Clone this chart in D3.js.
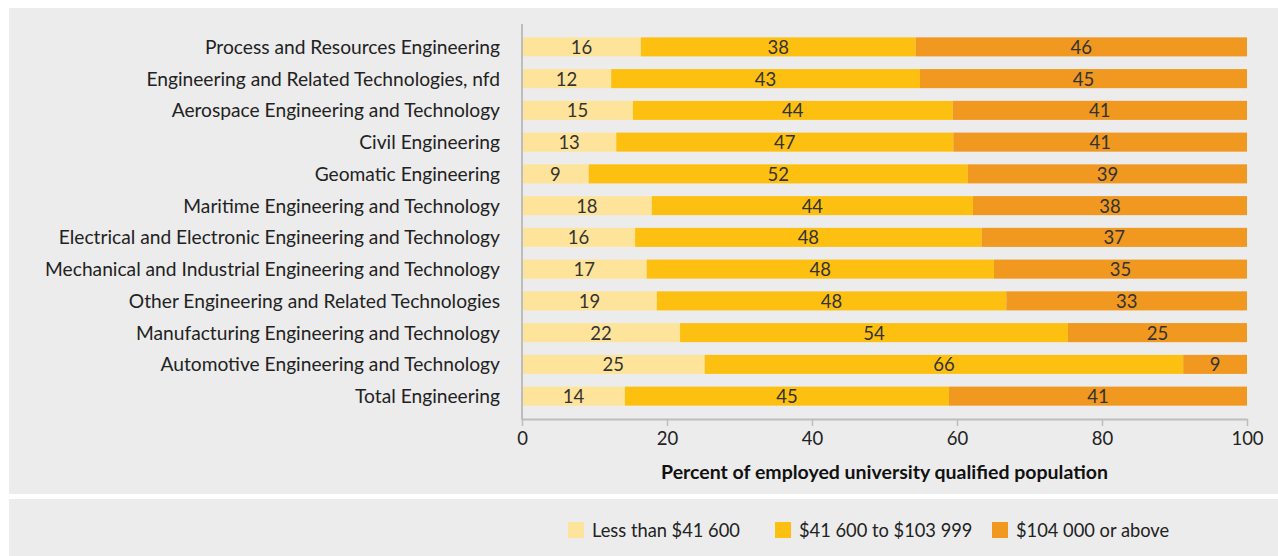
<!DOCTYPE html>
<html>
<head>
<meta charset="utf-8">
<script src="https://cdn.jsdelivr.net/npm/d3@7"></script>
<style>
  body { margin: 0; background: #fff; }
  svg { display: block; font-family: Lato, "Open Sans", sans-serif; }
</style>
</head>
<body>
<svg id="chart"></svg>
<script>
// Chart data
const categories = [
  "Process and Resources Engineering",
  "Engineering and Related Technologies, nfd",
  "Aerospace Engineering and Technology",
  "Civil Engineering",
  "Geomatic Engineering",
  "Maritime Engineering and Technology",
  "Electrical and Electronic Engineering and Technology",
  "Mechanical and Industrial Engineering and Technology",
  "Other Engineering and Related Technologies",
  "Manufacturing Engineering and Technology",
  "Automotive Engineering and Technology",
  "Total Engineering"
];
const lowValues = [16.4, 12.3, 15.3, 13.0, 9.2, 17.9, 15.6, 17.2, 18.6, 21.8, 25.2, 14.2];
const midValues = [37.9, 42.6, 44.1, 46.5, 52.3, 44.3, 47.8, 47.9, 48.2, 53.5, 66.0, 44.7];
const highValues = [45.7, 45.1, 40.6, 40.5, 38.5, 37.8, 36.6, 34.9, 33.2, 24.7, 8.8, 41.1];
const seriesNames = ["Less than $41 600", "$41 600 to $103 999", "$104 000 or above"];
const seriesColors = ["#fee49a", "#fdc010", "#f09820"];
const xTicks = [0, 20, 40, 60, 80, 100];

const width = 1278;
const height = 556;

const svg = d3.select("#chart").attr("width", width).attr("height", height);

// Background panels
svg.append("rect").attr("x", 9).attr("y", 8).attr("width", 1269).attr("height", 486).attr("fill", "#ececec");
svg.append("rect").attr("x", 9).attr("y", 499).attr("width", 1269).attr("height", 57).attr("fill", "#ececec");

const x = d3.scaleLinear().domain([0, 100]).range([522, 1247]);
const y = d3.scaleBand().domain(categories).range([24, 419]).paddingInner(0.4).paddingOuter(0.42);

// Stack the series
const rows = categories.map((c, i) => ({ cat: c, low: lowValues[i], mid: midValues[i], high: highValues[i] }));
const keys = ["low", "mid", "high"];
const stacked = d3.stack().keys(keys)(rows);

const groups = svg.selectAll("g.series")
  .data(stacked)
  .enter()
  .append("g")
  .attr("class", "series")
  .attr("fill", (d, i) => seriesColors[i]);

groups.selectAll("rect")
  .data(d => d)
  .enter()
  .append("rect")
  .attr("x", d => x(d[0]))
  .attr("y", d => y(d.data.cat))
  .attr("width", d => x(d[1]) - x(d[0]))
  .attr("height", y.bandwidth());

// Value labels
const labels = svg.append("g");
stacked.forEach(s => {
  labels.selectAll(null)
    .data(s)
    .enter()
    .append("text")
    .attr("x", d => (x(d[0]) + x(d[1])) / 2)
    .attr("y", d => y(d.data.cat) + y.bandwidth() / 2)
    .attr("dy", "0.38em")
    .attr("text-anchor", "middle")
    .attr("font-size", 18.5)
    .attr("fill", "#333")
    .text(d => Math.round(d[1] - d[0]));
});

// Category labels
svg.append("g")
  .selectAll("text")
  .data(categories)
  .enter()
  .append("text")
  .attr("x", 500)
  .attr("y", d => y(d) + y.bandwidth() / 2)
  .attr("dy", "0.36em")
  .attr("text-anchor", "end")
  .attr("font-size", 19.2)
  .attr("fill", "#222")
  .text(d => d);

// Axes
const xAxis = svg.append("g")
  .attr("transform", "translate(0,419)")
  .call(d3.axisBottom(x).tickValues(xTicks).tickSize(7).tickPadding(6).tickSizeOuter(0));
xAxis.select(".domain").attr("stroke", "#bdbdbd").attr("stroke-width", 2);
xAxis.selectAll(".tick line").attr("stroke", "#bdbdbd").attr("stroke-width", 1.5);
xAxis.selectAll(".tick text").attr("font-size", 18.5).attr("fill", "#222").attr("font-family", "Lato, sans-serif");

svg.append("line")
  .attr("x1", 522).attr("x2", 522)
  .attr("y1", 24).attr("y2", 420)
  .attr("stroke", "#bdbdbd").attr("stroke-width", 2);

svg.append("text")
  .attr("x", (x(0) + x(100)) / 2)
  .attr("y", 479)
  .attr("text-anchor", "middle")
  .attr("font-size", 19.5)
  .attr("font-weight", "bold")
  .attr("fill", "#111")
  .text("Percent of employed university qualified population");

// Legend
const legendX = [568, 775, 992];
const legend = svg.append("g")
  .selectAll("g")
  .data(seriesNames)
  .enter()
  .append("g")
  .attr("transform", (d, i) => `translate(${legendX[i]},522)`);
legend.append("rect").attr("width", 16).attr("height", 16).attr("fill", (d, i) => seriesColors[i]);
legend.append("text")
  .attr("x", 24)
  .attr("y", 8)
  .attr("dy", "0.36em")
  .attr("font-size", 18.3)
  .attr("fill", "#222")
  .text(d => d);
</script>
</body>
</html>
